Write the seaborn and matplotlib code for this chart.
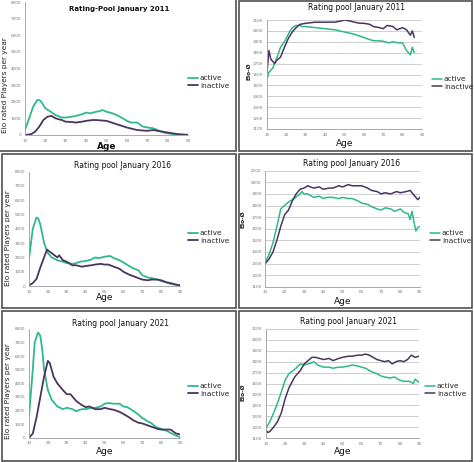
import matplotlib
matplotlib.use("Agg")
import matplotlib.pyplot as plt
import seaborn as sns
import pandas as pd
from matplotlib.patches import Rectangle

# ---------------- data ----------------
status_labels = ["active", "inactive"]
x_ticks = [10, 20, 30, 40, 50, 60, 70, 80, 90]
count_ticks = [0, 1000, 2000, 3000, 4000, 5000, 6000, 7000, 8000]
elo_ticks = [1100, 1200, 1300, 1400, 1500, 1600, 1700, 1800, 1900, 2000, 2100]
titles = ["Rating-Pool January 2011", "Rating pool January 2011",
          "Rating pool January 2016", "Rating pool January 2016",
          "Rating pool January 2021", "Rating pool January 2021"]

# counts 2011
age_c11_act = [10, 12, 14, 16, 17, 18, 20, 22, 25, 28, 30, 33, 35, 38, 40, 42, 45, 47, 48, 50, 53, 55, 58, 60, 62, 65, 68, 70, 73, 75, 78, 80, 85, 90]
c11_act = [300, 1000, 1700, 2100, 2100, 2000, 1600, 1450, 1200, 1050, 1050, 1100, 1150, 1250, 1350, 1300, 1400, 1450, 1500, 1400, 1300, 1200, 1000, 850, 750, 750, 500, 450, 400, 300, 150, 100, 20, 0]
age_c11_ina = [10, 13, 15, 17, 19, 21, 23, 25, 28, 30, 33, 35, 38, 40, 43, 45, 50, 55, 60, 65, 70, 73, 75, 80, 85, 90]
c11_ina = [0, 50, 200, 500, 900, 1100, 1150, 1000, 900, 800, 780, 750, 800, 850, 900, 900, 850, 650, 450, 300, 250, 300, 250, 150, 50, 10]

# counts 2016
age_c16_act = [10, 12, 14, 15, 16, 18, 20, 22, 25, 28, 30, 33, 35, 37, 40, 43, 45, 47, 50, 53, 55, 58, 60, 63, 65, 68, 70, 73, 75, 78, 80, 83, 85, 88, 90]
c16_act = [1900, 4000, 4800, 4700, 4300, 3000, 2300, 2000, 1800, 1700, 1600, 1550, 1600, 1700, 1750, 1850, 2000, 1950, 2050, 2100, 1950, 1800, 1650, 1400, 1250, 1100, 750, 600, 550, 450, 350, 250, 150, 80, 30]
age_c16_ina = [10, 12, 14, 16, 18, 19.5, 21, 23, 25, 26, 28, 30, 33, 35, 38, 40, 43, 45, 48, 50, 52, 55, 58, 60, 63, 65, 68, 70, 73, 75, 78, 80, 83, 85, 88, 90]
c16_ina = [50, 200, 500, 1300, 2000, 2550, 2400, 2200, 2000, 2150, 1800, 1700, 1450, 1450, 1350, 1400, 1450, 1500, 1550, 1500, 1500, 1350, 1200, 1000, 800, 700, 550, 450, 400, 450, 450, 400, 250, 200, 100, 50]

# counts 2021
age_c21_act = [10, 12, 13, 14.8, 16, 17, 18, 20, 22, 25, 28, 30, 33, 35, 38, 40, 43, 45, 48, 50, 52, 55, 58, 60, 62, 65, 68, 70, 73, 75, 77, 80, 83, 85, 88, 90]
c21_act = [1600, 5000, 7000, 7750, 7500, 6500, 5000, 3500, 2800, 2300, 2100, 2200, 2100, 1950, 2100, 2100, 2200, 2200, 2300, 2500, 2550, 2500, 2500, 2300, 2250, 2000, 1700, 1450, 1200, 1050, 800, 650, 500, 350, 150, 50]
age_c21_ina = [10, 12, 14, 16, 18, 20, 21, 23, 25, 28, 30, 32, 35, 38, 40, 42, 45, 48, 50, 53, 55, 58, 60, 63, 65, 68, 70, 73, 75, 78, 80, 83, 85, 88, 90]
c21_ina = [0, 300, 1500, 3000, 4500, 5650, 5500, 4500, 4000, 3500, 3200, 3200, 2700, 2400, 2250, 2300, 2100, 2100, 2200, 2100, 2050, 1900, 1750, 1500, 1300, 1100, 1050, 900, 800, 650, 600, 600, 600, 300, 250]

# elo 2011
age_e11_act = [10, 11, 13, 15, 17, 19, 21, 23, 25, 27, 28, 30, 35, 40, 45, 50, 55, 60, 63, 65, 67, 70, 73, 75, 78, 80, 82, 84, 85, 86]
e11_act = [1560, 1620, 1660, 1750, 1850, 1900, 1970, 2030, 2050, 2050, 2040, 2040, 2030, 2020, 2010, 1990, 1970, 1940, 1920, 1910, 1910, 1905, 1890, 1900, 1890, 1890, 1820, 1780, 1850, 1800]
age_e11_ina = [10, 11, 12, 13, 14, 15, 17, 19, 21, 23, 25, 27, 30, 35, 40, 45, 48, 50, 53, 55, 58, 60, 63, 65, 68, 70, 72, 75, 77, 80, 82, 84, 85, 86]
e11_ina = [1620, 1820, 1740, 1720, 1700, 1730, 1760, 1850, 1930, 1990, 2030, 2060, 2070, 2080, 2080, 2080, 2090, 2100, 2090, 2080, 2070, 2070, 2060, 2040, 2030, 2020, 2050, 2040, 2010, 2030, 2010, 1960, 2000, 1940]

# elo 2016
age_e16_act = [10, 12, 14, 16, 18, 20, 22, 25, 28, 29, 30, 32, 35, 38, 40, 42, 45, 48, 50, 53, 55, 58, 60, 63, 65, 68, 70, 72, 75, 77, 80, 82, 84, 85, 86, 87, 88, 89, 90]
e16_act = [1310, 1380, 1480, 1620, 1770, 1800, 1830, 1860, 1900, 1920, 1900, 1900, 1870, 1880, 1860, 1870, 1870, 1860, 1870, 1860, 1860, 1840, 1820, 1810, 1790, 1770, 1760, 1780, 1770, 1750, 1770, 1740, 1730, 1680, 1750, 1660, 1580, 1610, 1620]
age_e16_ina = [10, 12, 14, 16, 18, 20, 22, 24, 26, 28, 30, 32, 35, 38, 40, 43, 45, 48, 50, 53, 55, 58, 60, 63, 65, 68, 70, 72, 75, 78, 80, 83, 85, 87, 89, 90]
e16_ina = [1300, 1340, 1400, 1500, 1620, 1720, 1760, 1840, 1900, 1940, 1950, 1970, 1950, 1960, 1940, 1950, 1950, 1970, 1960, 1980, 1970, 1970, 1970, 1950, 1930, 1920, 1900, 1910, 1900, 1920, 1910, 1920, 1930, 1890, 1850, 1870]

# elo 2021
age_e21_act = [10, 12, 14, 16, 18, 20, 22, 25, 28, 30, 32, 34, 35, 37, 40, 43, 45, 48, 50, 53, 55, 58, 60, 62, 65, 68, 70, 72, 75, 77, 80, 82, 85, 87, 88, 90]
e21_act = [1190, 1250, 1330, 1420, 1520, 1630, 1690, 1730, 1780, 1770, 1780, 1790, 1800, 1770, 1750, 1750, 1740, 1750, 1750, 1760, 1770, 1760, 1750, 1740, 1710, 1690, 1670, 1660, 1650, 1660, 1630, 1620, 1620, 1600, 1640, 1610]
age_e21_ina = [10, 11, 12, 14, 16, 18, 20, 22, 25, 28, 30, 32, 34, 36, 38, 40, 43, 45, 48, 50, 53, 55, 58, 60, 62, 64, 66, 68, 70, 72, 74, 76, 78, 80, 82, 84, 86, 88, 90]
e21_ina = [1170, 1150, 1160, 1200, 1250, 1330, 1460, 1560, 1660, 1720, 1780, 1810, 1840, 1840, 1830, 1820, 1830, 1810, 1830, 1840, 1850, 1850, 1860, 1860, 1870, 1860, 1840, 1820, 1810, 1800, 1810, 1780, 1800, 1810, 1800, 1820, 1860, 1840, 1850]

# ---------------- style ----------------
sns.set_style("white")
plt.rcParams["font.family"] = ["DejaVu Sans"]
GREEN = "#2fb88a"
PURPLE = "#4a3560"
palette = {"active": GREEN, "inactive": PURPLE}


def make_df(a_age, a_val, i_age, i_val):
    return pd.concat([
        pd.DataFrame({"age": a_age, "value": a_val, "status": status_labels[0]}),
        pd.DataFrame({"age": i_age, "value": i_val, "status": status_labels[1]}),
    ], ignore_index=True)


W, H = 474, 462
fig = plt.figure(figsize=(W / 100, H / 100), dpi=100)


def fx(px):
    return px / W


def fy(py):
    return 1 - py / H


def axes_px(x0, x1, y0, y1):
    return fig.add_axes([fx(x0), fy(y1), fx(x1 - x0), (y1 - y0) / H])


# panel borders (x0, x1, y0, y1) in pixels
borders = [(-5, 236, -5, 151), (239, 472, 1, 151),
           (2, 236, 154, 308), (239, 472, 154, 308),
           (2, 236, 311, 461), (239, 472, 311, 461)]
for (x0, x1, y0, y1) in borders:
    fig.patches.append(Rectangle((fx(x0), fy(y1)), fx(x1 - x0), (y1 - y0) / H,
                                 transform=fig.transFigure, fill=False,
                                 edgecolor="#505050", linewidth=1.2, zorder=0))

panels = [
    dict(df=make_df(age_c11_act, c11_act, age_c11_ina, c11_ina), box=(25, 188, 2, 135), kind="count",
         title_xy=(119, 9), title_bold=True, leg_xy=(188, 82), age_y=146, ylab_xy=(5, 85), lw=1.3),
    dict(df=make_df(age_e11_act, e11_act, age_e11_ina, e11_ina), box=(267, 422, 20, 129), kind="elo",
         title_xy=(356, 8), title_bold=False, leg_xy=(432, 83), age_y=143, ylab_xy=(249, 71), lw=1.1),
    dict(df=make_df(age_c16_act, c16_act, age_c16_ina, c16_ina), box=(29, 180, 171.7, 286), kind="count",
         title_xy=(123, 165), title_bold=False, leg_xy=(188, 237), age_y=298, ylab_xy=(8, 238), lw=1.3),
    dict(df=make_df(age_e16_act, e16_act, age_e16_ina, e16_ina), box=(265.3, 419.7, 170.7, 286.7), kind="elo",
         title_xy=(352, 163), title_bold=False, leg_xy=(430, 237), age_y=302, ylab_xy=(243, 219), lw=1.1),
    dict(df=make_df(age_c21_act, c21_act, age_c21_ina, c21_ina), box=(29, 180, 329, 437.7), kind="count",
         title_xy=(121, 323), title_bold=False, leg_xy=(188, 390), age_y=451, ylab_xy=(8, 391), lw=1.3),
    dict(df=make_df(age_e21_act, e21_act, age_e21_ina, e21_ina), box=(266, 419, 329, 438), kind="elo",
         title_xy=(349, 322), title_bold=False, leg_xy=(425, 390), age_y=452, ylab_xy=(243, 392), lw=1.1),
]

for i, p in enumerate(panels):
    x0, x1, y0, y1 = p["box"]
    ax = axes_px(x0, x1, y0, y1)
    sns.lineplot(data=p["df"], x="age", y="value", hue="status", palette=palette,
                 ax=ax, linewidth=p["lw"], estimator=None, sort=True)
    ax.set_xlim(10, 90)
    ax.set_xticks(x_ticks)
    if p["kind"] == "count":
        ax.set_ylim(0, 8000)
        ax.set_yticks(count_ticks)
        ax.grid(False)
    else:
        ax.set_ylim(1100, 2100)
        ax.set_yticks(elo_ticks)
        ax.yaxis.grid(True, color="#c8c8c8", linewidth=0.6)
        ax.xaxis.grid(False)
        ax.set_axisbelow(True)
    for s in ["top", "right"]:
        ax.spines[s].set_visible(False)
    for s in ["left", "bottom"]:
        ax.spines[s].set_color("#9a9a9a")
        ax.spines[s].set_linewidth(0.6)
    ax.tick_params(axis="both", labelsize=3.0, colors="#777777", length=1.5, width=0.5, pad=1.2)
    ax.set_xlabel("")
    ax.set_ylabel("")
    handles, labels = ax.get_legend_handles_labels()
    if ax.get_legend() is not None:
        ax.get_legend().remove()
    fig.legend(handles, labels, loc="center left",
               bbox_to_anchor=(fx(p["leg_xy"][0]), fy(p["leg_xy"][1])),
               bbox_transform=fig.transFigure, frameon=False, fontsize=5.3,
               handlelength=1.3, handletextpad=0.3, labelspacing=0.2, borderpad=0,
               borderaxespad=0)
    fig.text(fx(p["title_xy"][0]), fy(p["title_xy"][1]), titles[i], ha="center", va="center",
             fontsize=5.0 if p["title_bold"] else 5.5,
             fontweight="bold" if p["title_bold"] else "normal", color="#111111")
    fig.text(fx((x0 + x1) / 2), fy(p["age_y"]), "Age", ha="center", va="center",
             fontsize=6.5, fontweight="bold" if i == 0 else "normal", color="#111111")
    lx, ly = p["ylab_xy"]
    if p["kind"] == "count":
        fig.text(fx(lx), fy(ly), "Elo rated Players per year", rotation=90,
                 ha="center", va="center", fontsize=5.3, color="#222222")
    else:
        fig.text(fx(lx), fy(ly), "Elo-Ø", rotation=90,
                 ha="center", va="center", fontsize=4.2, fontweight="bold", color="#222222")

fig.savefig("out.png", dpi=100)
